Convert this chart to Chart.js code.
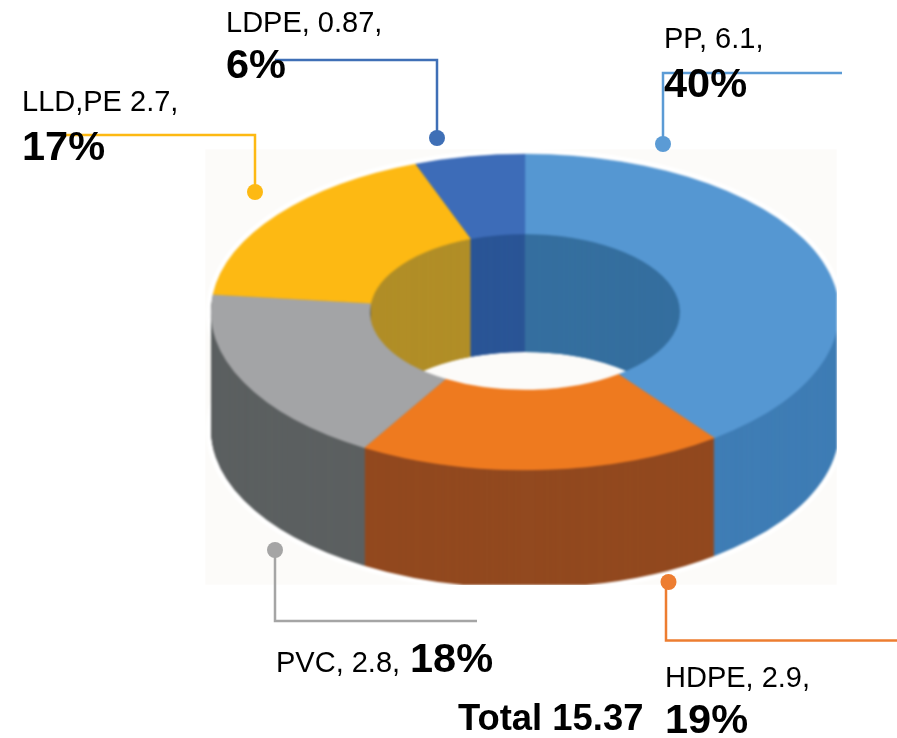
<!DOCTYPE html>
<html>
<head>
<meta charset="utf-8">
<script src="https://cdn.jsdelivr.net/npm/chart.js@4/dist/chart.umd.min.js"></script>
<style>
html,body{margin:0;padding:0;background:#fff;}
#wrap{position:relative;width:897px;height:738px;}
</style>
</head>
<body>
<div id="wrap"><canvas id="c"></canvas></div>
<script>
const categories = ['PP','HDPE','PVC','LLD,PE','LDPE'];
const values = [6.1,2.9,2.8,2.7,0.87];
const valueLabels = ['PP, 6.1,','HDPE, 2.9,','PVC, 2.8,','LLD,PE 2.7,','LDPE, 0.87,'];
const percentLabels = ['40%','19%','18%','17%','6%'];
const totalLabel = 'Total 15.37';
const topColors = ['#5597d2','#ee7a1f','#a3a4a6','#fdb913','#3d6cb8'];
const wallColors = ['#3f7db5','#92491f','#5c6061','#9a7a20','#2a5596'];
const innerColors = ['#356f9f','#92491f','#5c6061','#b18e27','#2a5596'];
const lineColors = ['#5b9bd5','#ed7d31','#a5a5a5','#fdb913','#3f6fb6'];

const BOX = {x:205,y:149,w:632,h:436};
const FACE_CY = 312, SQUASH = 0.503, DEPTH = 118;
// per-label leader path, dot and text anchors (reading order matches categories)
const annotations = [
  {path:[[842,73],[663,73],[663,144]],dot:[663,144],
   t1:[664,48],t2:[664,97]},
  {path:[[666,582],[666,640.5],[897,640.5]],dot:[668.5,582],
   t1:[665,687],t2:[665,733]},
  {path:[[275,550],[275,621],[477,621]],dot:[275,550],
   t1:[276,672],t2:[410,672]},
  {path:[[65,135],[255,135],[255,192]],dot:[255,192],
   t1:[22,111],t2:[22,160]},
  {path:[[275,60],[437,60],[437,138]],dot:[437,138],
   t1:[226,32],t2:[226,78]}
];

function faceTransform(ctx, chartCy, d){
  ctx.translate(0, FACE_CY + d);
  ctx.scale(1, SQUASH);
  ctx.translate(0, -chartCy);
}
function drawWithColor(ctx, el, color){
  const saved = el.options;
  const o = Object.create(saved);
  Object.defineProperty(o,'backgroundColor',{value:color});
  Object.defineProperty(o,'borderWidth',{value:0});
  el.options = o;
  el.draw(ctx);
  el.options = saved;
}

const donut3d = {
  id:'donut3d',
  beforeDraw(chart){
    const ctx = chart.ctx;
    ctx.save();
    ctx.fillStyle = '#ffffff';
    ctx.fillRect(0,0,chart.width,chart.height);
    ctx.fillStyle = '#fcfbf9';
    ctx.fillRect(BOX.x,BOX.y,BOX.w,BOX.h);
    ctx.restore();
  },
  beforeDatasetsDraw(chart){
    const ctx = chart.ctx;
    const arcs = chart.getDatasetMeta(0).data;
    const cx = arcs[0].x, chartCy = arcs[0].y;
    const R = arcs[0].outerRadius, r = arcs[0].innerRadius;
    ctx.save();
    ctx.beginPath();
    ctx.rect(BOX.x,BOX.y,BOX.w,BOX.h);
    ctx.clip();
    // soft light halo round the silhouette
    ctx.strokeStyle = '#ffffff';
    ctx.lineWidth = 8;
    [0,DEPTH].forEach(d=>{
      ctx.beginPath();
      ctx.ellipse(cx,FACE_CY+d,R+1,R*SQUASH+1,0,0,Math.PI*2);
      ctx.stroke();
    });
    // extruded walls
    for(let d=DEPTH;d>0;d--){
      ctx.save();
      faceTransform(ctx,chartCy,d);
      arcs.forEach((el,i)=>drawWithColor(ctx,el,wallColors[i]));
      ctx.restore();
    }
    // inner walls seen through the hole
    ctx.save();
    ctx.beginPath();
    ctx.ellipse(cx,FACE_CY,r,r*SQUASH,0,0,Math.PI*2);
    ctx.clip();
    for(let d=DEPTH;d>0;d--){
      ctx.save();
      faceTransform(ctx,chartCy,d);
      arcs.forEach((el,i)=>drawWithColor(ctx,el,innerColors[i]));
      ctx.restore();
    }
    ctx.restore();
    ctx.restore();
    // top face is drawn by the library under this transform
    ctx.save();
    ctx.beginPath();
    ctx.rect(BOX.x,BOX.y,BOX.w,BOX.h);
    ctx.clip();
    faceTransform(ctx,chartCy,0);
  },
  afterDatasetsDraw(chart){
    const ctx = chart.ctx;
    ctx.restore();
    // soften, like the low-resolution picture
    const off = document.createElement('canvas');
    off.width = chart.canvas.width; off.height = chart.canvas.height;
    off.getContext('2d').drawImage(chart.canvas,0,0);
    ctx.save();
    ctx.beginPath();
    ctx.rect(BOX.x,BOX.y,BOX.w,BOX.h);
    ctx.clip();
    ctx.filter = 'blur(1.3px)';
    ctx.drawImage(off,0,0);
    ctx.restore();
  },
  afterDraw(chart){
    const ctx = chart.ctx;
    ctx.save();
    annotations.forEach((a,i)=>{
      ctx.strokeStyle = lineColors[i];
      ctx.fillStyle = lineColors[i];
      ctx.lineWidth = 2.5;
      ctx.lineJoin = 'miter';
      ctx.beginPath();
      a.path.forEach((p,j)=> j ? ctx.lineTo(p[0],p[1]) : ctx.moveTo(p[0],p[1]));
      ctx.stroke();
      ctx.beginPath();
      ctx.arc(a.dot[0],a.dot[1],8,0,Math.PI*2);
      ctx.fill();
    });
    ctx.fillStyle = '#000000';
    ctx.textBaseline = 'alphabetic';
    ctx.textAlign = 'left';
    annotations.forEach((a,i)=>{
      ctx.font = '29px "Liberation Sans", Arial, sans-serif';
      ctx.fillText(valueLabels[i],a.t1[0],a.t1[1]);
      ctx.font = 'bold 41.5px "Liberation Sans", Arial, sans-serif';
      ctx.fillText(percentLabels[i],a.t2[0],a.t2[1]);
    });
    ctx.font = 'bold 36.4px "Liberation Sans", Arial, sans-serif';
    ctx.fillText(totalLabel,458,730);
    ctx.restore();
  }
};

new Chart(document.getElementById('c'),{
  type:'doughnut',
  data:{
    labels:categories,
    datasets:[{
      data:values,
      backgroundColor:topColors,
      borderColor:topColors,
      borderWidth:0.5,
      clip:false,
      radius:314,
      cutout:155
    }]
  },
  options:{
    responsive:true,
    maintainAspectRatio:false,
    animation:false,
    events:[],
    cutout:155,
    radius:314,
    layout:{padding:{left:211,right:58,top:55,bottom:55}},
    plugins:{legend:{display:false},tooltip:{enabled:false},title:{display:false}}
  },
  plugins:[donut3d]
});
</script>
</body>
</html>
